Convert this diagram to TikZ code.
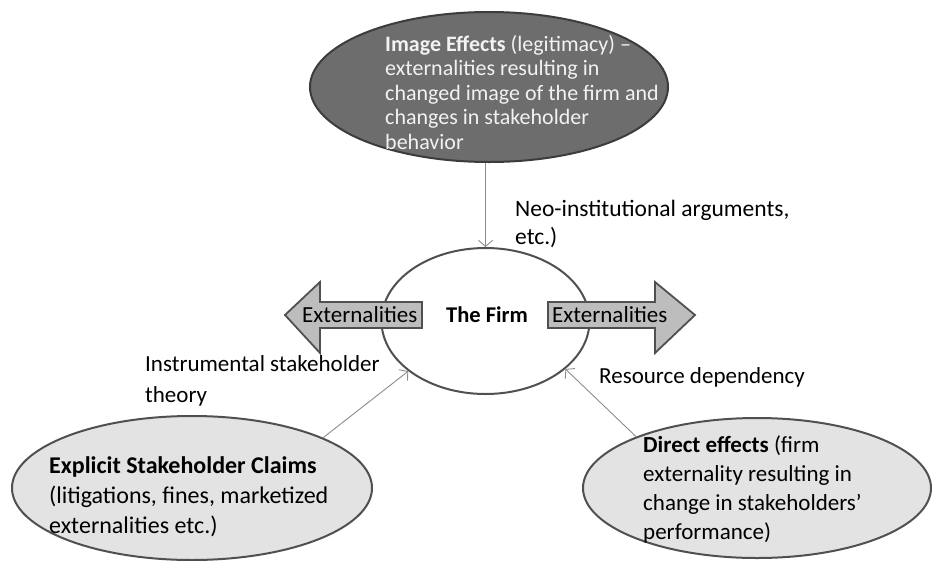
\documentclass[tikz,border=0pt]{standalone}
\usepackage{fontspec}
\setmainfont{Carlito}
\usetikzlibrary{arrows.meta,shapes.geometric}
\definecolor{darkfill}{HTML}{6D6D6D}
\definecolor{darkline}{HTML}{3C3C3C}
\definecolor{lightfill}{HTML}{E3E3E3}
\definecolor{midline}{HTML}{505050}
\definecolor{arrfill}{HTML}{BDBDBD}
\definecolor{connline}{HTML}{8C8C8C}
\tikzset{
  oval/.style={ellipse, draw=midline, line width=2pt, inner sep=0pt},
  extarrow/.style={draw=midline, fill=arrfill, line width=1.8pt, line join=miter},
  conn/.style={draw=connline, line width=0.9pt, -{Straight Barb[length=6pt,width=14pt]}},
  one/.style={anchor=base west, inner sep=0pt, font=\fontsize{23}{29}\selectfont},
  multi/.style={anchor=north west, inner sep=0pt, align=left, execute at begin node=\strut},
}
\begin{document}
\begin{tikzpicture}[x=1pt,y=-1pt]
\useasboundingbox (0,0) rectangle (934,560);
% top ellipse
\node[oval, draw=darkline, fill=darkfill, minimum width=358pt, minimum height=150pt] (img) at (489,87) {};
\node[multi, text=white!95!black, font=\fontsize{22}{24.5}\selectfont] (imgtext) at (385,34.85)
  {\textbf{Image Effects} (legitimacy) –\\externalities resulting in\\changed image of the firm and\\changes in stakeholder\\behavior};
% firm
\node[oval, fill=white, minimum width=208pt, minimum height=146pt] (firm) at (485.5,321) {};
% bottom ellipses
\node[oval, fill=lightfill, minimum width=360pt, minimum height=144pt] (claims) at (192,488) {};
\node[oval, fill=lightfill, minimum width=348pt, minimum height=140pt] (direct) at (757,488) {};
% externality arrows
\draw[extarrow] (422,302) -- (320,302) -- (320,282) -- (285,315) -- (320,353) -- (320,328) -- (422,328) -- cycle;
\draw[extarrow] (548,302) -- (655,302) -- (655,282) -- (695,315) -- (655,353) -- (655,328) -- (548,328) -- cycle;
\node[one] (extl) at (302,322) {Externalities};
\node[one] (extr) at (552,322) {Externalities};
\node[one, font=\fontsize{22.5}{29}\selectfont\bfseries] (firmtext) at (446,322) {The Firm};
% labels
\node[multi, font=\fontsize{23.5}{28}\selectfont] (neo) at (515,200.4) {Neo-institutional arguments,\\etc.)};
\node[multi, font=\fontsize{23}{31}\selectfont] (instr) at (145,355.3) {Instrumental stakeholder\\theory};
\node[one] (res) at (599,383) {Resource dependency};
\node[multi, font=\fontsize{24}{30}\selectfont] (claimstext) at (49,456) {\textbf{Explicit Stakeholder Claims}\\(litigations, fines, marketized\\externalities etc.)};
\node[multi, font=\fontsize{23}{29}\selectfont] (directtext) at (643,435.5) {\textbf{Direct effects} (firm\\externality resulting in\\change in stakeholders’\\performance)};
% connectors
\draw[conn] (img.south -| firm.north) -- (firm.north);
\draw[conn] (claims.21) -- (firm.213);
\draw[conn] (direct.157) -- (firm.329);
\end{tikzpicture}
\end{document}
